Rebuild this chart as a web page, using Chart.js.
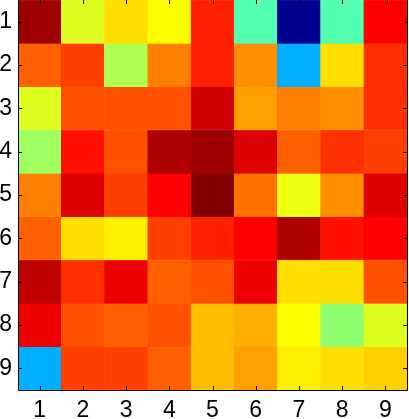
<!DOCTYPE html>
<html>
<head>
<meta charset="utf-8">
<script src="https://cdn.jsdelivr.net/npm/chart.js@4"></script>
<style>
  body { margin: 0; background: #fff; }
  canvas { display: block; }
</style>
</head>
<body>
<canvas id="heatmap" width="409" height="419"></canvas>
<script>
// axis labels
const colLabels = ['1', '2', '3', '4', '5', '6', '7', '8', '9'];
const rowLabels = [1, 2, 3, 4, 5, 6, 7, 8, 9];

// cell values, as indices into a 64-step jet colormap (row by row)
const row1 = [62, 38, 42, 40, 54, 29, 1, 29, 56];
const row2 = [50, 52, 35, 48, 54, 47, 19, 42, 53];
const row3 = [38, 51, 51, 51, 59, 46, 48, 47, 53];
const row4 = [34, 55, 51, 61, 62, 58, 50, 53, 52];
const row5 = [48, 58, 52, 56, 64, 49, 39, 47, 58];
const row6 = [50, 42, 41, 52, 54, 56, 61, 55, 56];
const row7 = [60, 53, 57, 50, 51, 57, 42, 42, 51];
const row8 = [57, 51, 50, 51, 44, 45, 40, 33, 38];
const row9 = [19, 52, 52, 50, 44, 46, 41, 42, 43];
const rows = [row1, row2, row3, row4, row5, row6, row7, row8, row9];

// MATLAB-style jet(64)
function jet(k) {
  let r = 0, g = 0, b = 0;
  if (k > 24 && k <= 40) r = (k - 24) / 16; else if (k > 40 && k <= 56) r = 1; else if (k > 56) r = (72 - k) / 16;
  if (k > 8 && k <= 24) g = (k - 8) / 16; else if (k > 24 && k <= 40) g = 1; else if (k > 40 && k <= 56) g = (56 - k) / 16;
  if (k <= 8) b = (k + 8) / 16; else if (k <= 24) b = 1; else if (k <= 40) b = (40 - k) / 16;
  return 'rgb(' + Math.round(r * 255) + ',' + Math.round(g * 255) + ',' + Math.round(b * 255) + ')';
}

const datasets = rows.map((vals, i) => ({
  label: 'row ' + rowLabels[i],
  data: vals.map(() => [rowLabels[i] - 0.5, rowLabels[i] + 0.5]),
  backgroundColor: vals.map(jet),
  borderColor: vals.map(jet),
  borderWidth: 0.5,
  borderSkipped: false,
  barPercentage: 1,
  categoryPercentage: 1,
  grouped: false
}));

// inward ticks and axes box, like MATLAB
const boxTicks = {
  id: 'boxTicks',
  afterDatasetsDraw(chart) {
    const { ctx, chartArea: a, scales } = chart;
    const len = 4;
    ctx.save();
    ctx.strokeStyle = '#000';
    ctx.lineWidth = 1;
    ctx.beginPath();
    ctx.moveTo(a.left + 0.5, a.top - 0.5);
    ctx.lineTo(a.left + 0.5, a.bottom + 0.5);
    ctx.lineTo(a.right + 0.5, a.bottom + 0.5);
    ctx.lineTo(a.right + 0.5, a.top - 0.5);
    scales.x.ticks.forEach((t, i) => {
      const x = Math.round(scales.x.getPixelForTick(i)) + 0.5;
      ctx.moveTo(x, a.bottom); ctx.lineTo(x, a.bottom - len);
      ctx.moveTo(x, a.top); ctx.lineTo(x, a.top + len);
    });
    scales.y.ticks.forEach(t => {
      const y = Math.round(scales.y.getPixelForValue(t.value)) + 0.5;
      ctx.moveTo(a.left, y); ctx.lineTo(a.left + len, y);
      ctx.moveTo(a.right, y); ctx.lineTo(a.right - len, y);
    });
    ctx.stroke();
    ctx.restore();
  }
};

new Chart(document.getElementById('heatmap'), {
  type: 'bar',
  data: { labels: colLabels, datasets: datasets },
  options: {
    responsive: false,
    animation: false,
    layout: { padding: { top: 0, right: 2, left: 0, bottom: 0 } },
    plugins: { legend: { display: false }, tooltip: { enabled: false } },
    scales: {
      x: {
        offset: true,
        grid: { display: false, drawTicks: false },
        border: { display: false },
        ticks: { color: '#000', padding: 7, maxRotation: 0, font: { family: 'Liberation Sans', size: 23 } },
        afterFit: s => { s.height = 29; s.paddingLeft = 0; s.paddingRight = 0; }
      },
      y: {
        min: 0.5,
        max: 9.5,
        reverse: true,
        grid: { display: false, drawTicks: false },
        border: { display: false },
        afterBuildTicks: s => { s.ticks = rowLabels.map(v => ({ value: v })); },
        ticks: { color: '#000', padding: 6, font: { family: 'Liberation Sans', size: 23 } },
        afterFit: s => { s.width = 18; s.paddingTop = 0; s.paddingBottom = 0; }
      }
    }
  },
  plugins: [boxTicks]
});
</script>
</body>
</html>
